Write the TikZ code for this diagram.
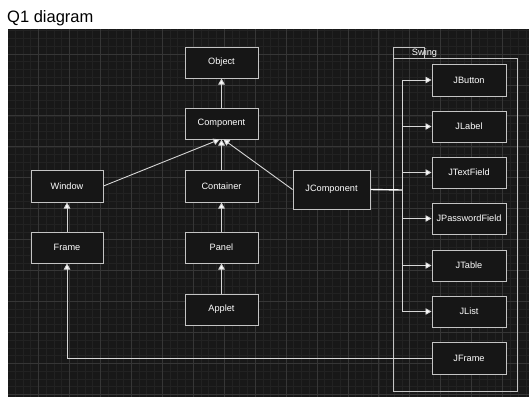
\documentclass[tikz,border=0pt]{standalone}
\usepackage{fontspec}
\setmainfont{Liberation Sans}
\usetikzlibrary{arrows.meta}
\definecolor{bgdark}{HTML}{181818}
\definecolor{gridminor}{HTML}{222222}
\definecolor{gridmajor}{HTML}{363636}
\definecolor{boxfill}{HTML}{161616}
\definecolor{boxline}{HTML}{C4C4C4}
\definecolor{wireline}{HTML}{D6D6D6}
\tikzset{
  cls/.style={draw=boxline, fill=boxfill, line width=1pt, minimum width=73pt, minimum height=31pt,
    inner sep=0pt, text=white, font=\fontsize{9.2pt}{11pt}\selectfont},
  inh/.style={draw=wireline, line width=0.9pt, -{Triangle[width=6.5pt,length=6pt,fill=white]}},
  wire/.style={draw=wireline, line width=0.9pt},
}
\begin{document}
\begin{tikzpicture}[x=1pt,y=-1pt]
\useasboundingbox (0,0) rectangle (529,400);
\fill[white] (0,0) rectangle (529,400);
\node[anchor=base west, inner sep=0pt, font=\fontsize{16.5pt}{18pt}\selectfont] (title) at (7,22) {Q1 diagram};
\fill[bgdark] (8,29) rectangle (529,397);
\begin{scope}
\clip (8,29) rectangle (529,397);
\foreach \i in {0,...,68} {
  \draw[gridminor, line width=0.6pt] ({7.56+\i*7.735},29) -- ({7.56+\i*7.735},397);
}
\foreach \i in {0,...,49} {
  \draw[gridminor, line width=0.6pt] (8,{23.06+\i*7.735}) -- (529,{23.06+\i*7.735});
}
\foreach \i in {0,...,17} {
  \draw[gridmajor, line width=0.8pt] ({7.56+\i*30.94},29) -- ({7.56+\i*30.94},397);
}
\foreach \i in {0,...,12} {
  \draw[gridmajor, line width=0.8pt] (8,{23.06+\i*30.94}) -- (529,{23.06+\i*30.94});
}
\end{scope}
% Swing container
\draw[boxline, line width=1pt] (393,58) rectangle (517,391);
\draw[boxline, line width=1pt] (393,58) -- (393,47) -- (424,47) -- (424,58);
\node[text=white, inner sep=0pt, font=\fontsize{9.2pt}{11pt}\selectfont] (swing) at (424.5,53) {Swing};
% class nodes
\node[cls] (object) at (221.5,62.5) {Object};
\node[cls] (component) at (221.5,123.5) {Component};
\node[cls, minimum width=72pt, minimum height=32pt] (window) at (67,186) {Window};
\node[cls, minimum height=32pt] (container) at (221.5,186) {Container};
\node[cls, minimum width=72pt] (frame) at (67,247.5) {Frame};
\node[cls] (panel) at (221.5,247.5) {Panel};
\node[cls] (applet) at (221.5,309.5) {Applet};
\node[cls, minimum width=77pt, minimum height=39pt] (jcomponent) at (331.5,189.5) {JComponent};
\node[cls, minimum width=74pt, minimum height=32pt] (jbutton) at (469,80) {JButton};
\node[cls, minimum width=74pt, minimum height=31pt] (jlabel) at (469,126.5) {JLabel};
\node[cls, minimum width=74pt, minimum height=31pt] (jtextfield) at (469,172.5) {JTextField};
\node[cls, minimum width=74pt, minimum height=31pt] (jpassword) at (469,218.5) {JPasswordField};
\node[cls, minimum width=74pt, minimum height=31pt] (jtable) at (469,265.5) {JTable};
\node[cls, minimum width=74pt, minimum height=31pt] (jlist) at (469,311.5) {JList};
\node[cls, minimum width=74pt, minimum height=32pt] (jframe) at (469,358) {JFrame};
% inheritance
\draw[inh] (component) -- (object);
\draw[inh] (container) -- (component);
\draw[inh] (window.east) -- ([xshift=-2pt]component.south);
\draw[inh] (jcomponent.west) -- ([xshift=2pt]component.south);
\draw[inh] (frame) -- (window);
\draw[inh] (panel) -- (container);
\draw[inh] (applet) -- (panel);
\draw[inh] (jframe.west) -| (frame.south);
% swing trunk
\coordinate (trunk) at (402,190);
\draw[wire, line width=1.4pt, draw=white] (jcomponent.east) -- (trunk);
\draw[wire] (trunk |- jbutton) -- (trunk |- jlist);
\foreach \n in {jbutton,jlabel,jtextfield,jpassword,jtable,jlist} {
  \draw[inh] (trunk |- \n) -- (\n.west);
}
\end{tikzpicture}
\end{document}
